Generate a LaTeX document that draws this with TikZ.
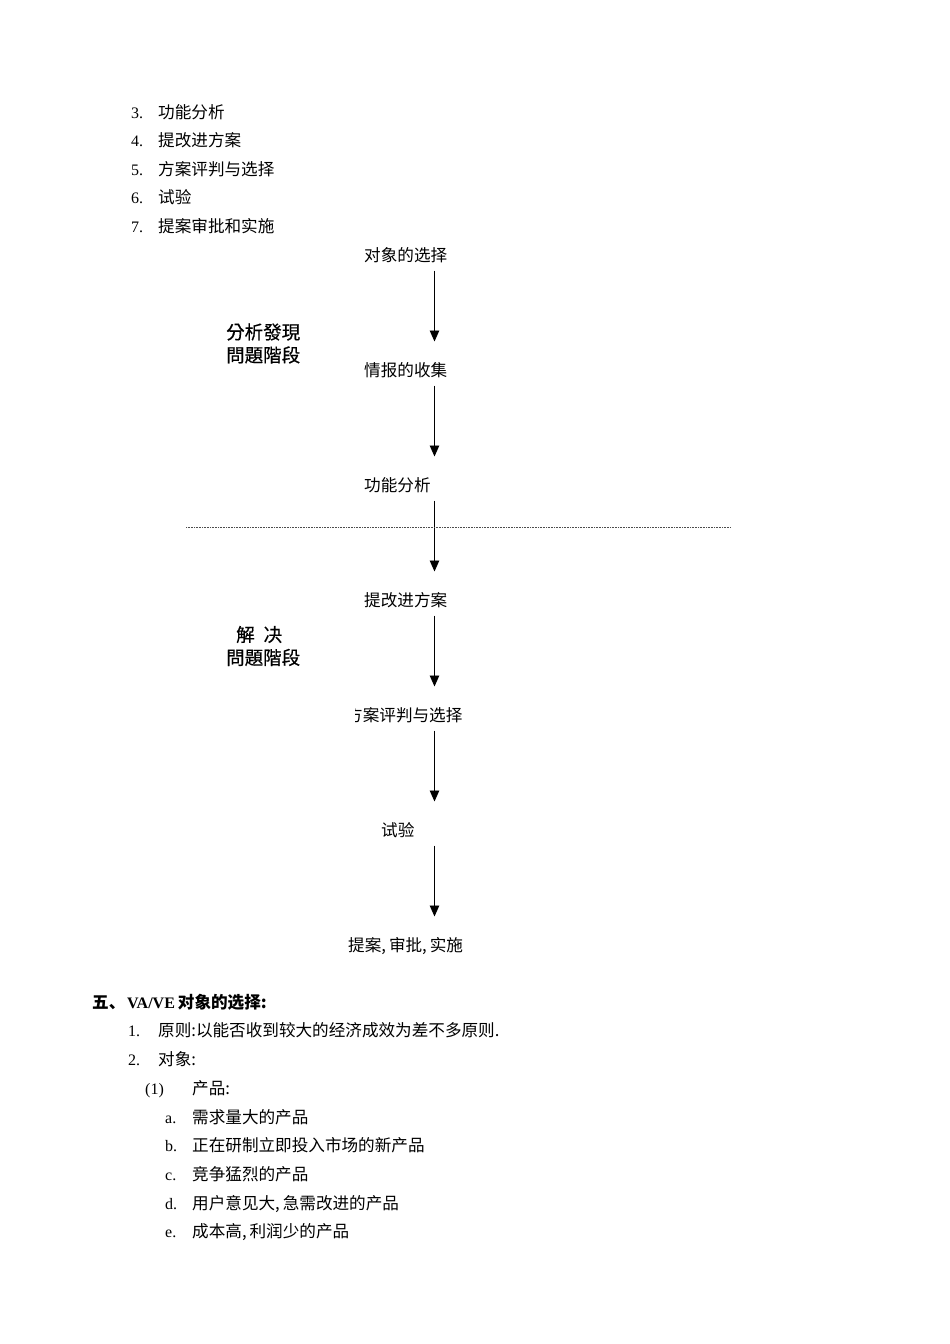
\documentclass[tikz,border=0pt]{standalone}
\usepackage{fontspec}
\setmainfont{Liberation Serif}
\newfontfamily\cjk{Noto Sans CJK SC}
\newfontfamily\cjktc[FakeBold=0.6]{Noto Sans CJK TC}
\usetikzlibrary{arrows.meta}

\tikzset{
    txt/.style={anchor=west, inner sep=0pt, font=\cjk\fontsize{16.6}{20}\selectfont,
        text height=14.6pt, text depth=2pt},
    num/.style={anchor=west, inner sep=0pt, font=\fontsize{16}{20}\selectfont,
        text height=14.6pt, text depth=2pt},
    stage/.style={anchor=west, inner sep=0pt, align=left,
        font=\cjktc\fontsize{18.5}{23}\selectfont},
    flow/.style={-{Triangle[length=11pt,width=9.5pt]}, line width=0.9pt,
        shorten <=7pt, shorten >=20pt},
}

\begin{document}
\begin{tikzpicture}[x=1pt,y=-1pt]
    \useasboundingbox (0,0) rectangle (950,1344);
    % steps listed above the chart
    \foreach \n/\t [count=\i from 0] in {3/功能分析, 4/提改进方案, 5/方案评判与选择, 6/试验, 7/提案审批和实施} {
        \node[num] (no\n) at (131,112+28.5*\i) {\n.};
        \node[txt] (step\n) at (158,112+28.5*\i) {\t};
    }
    % flow chart
    \coordinate (ax) at (434.5,0);
    \node[txt] (obj)  at (364,255) {对象的选择};
    \node[txt] (info) at (364,370) {情报的收集};
    \node[txt] (func) at (364,485) {功能分析};
    \node[txt] (impr) at (364,600) {提改进方案};
    \begin{scope}
        \clip (355,700) rectangle (480,730);
        \node[txt] (eval) at (346,715) {方案评判与选择};
    \end{scope}
    \node[txt] (test) at (381,830) {试验};
    \node[txt] (appr) at (348,945) {提案,\kern3pt 审批,\kern3pt 实施};
    \foreach \a/\b in {obj/info, info/func, func/impr, impr/eval, eval/test, test/appr}
        \draw[flow] (\a.south -| ax) -- (\b.north -| ax);
    \draw[line width=1pt, gray!60!black, dash pattern=on 1pt off 0.6pt] (186,527.5) -- (731,527.5);
    \node[stage] (find) at (226,343.5) {分析發現\\問題階段};
    \node[stage] (solve) at (226,646) {\hspace*{10pt}解\hspace{9pt}决\\問題階段};
    % section five
    \node[txt, font=\cjk\bfseries\fontsize{16.6}{20}\selectfont] (sec) at (92,1002) {五、};
    \node[txt, font=\cjk\bfseries\fontsize{16.6}{20}\selectfont] (sectitle) at (127,1002)
        {{\rmfamily\fontsize{16}{20}\selectfont VA/VE}\kern3pt 对象的选择:};
    \node[num] (no1) at (128,1030) {1.};
    \node[txt] (rule) at (158,1030) {原则:以能否收到较大的经济成效为差不多原则.};
    \node[num] (no2) at (128,1059) {2.};
    \node[txt] (target) at (158,1059) {对象:};
    \node[num] (sub1) at (145,1088) {(1)};
    \node[txt] (prod) at (192,1088) {产品:};
    \foreach \l/\t [count=\i] in {a/需求量大的产品, b/正在研制立即投入市场的新产品, c/竞争猛烈的产品,
            d/{用户意见大,\kern3pt 急需改进的产品}, e/{成本高,\kern3pt 利润少的产品}} {
        \node[num] (lt\l) at (165,1088+28.7*\i) {\l.};
        \node[txt] (item\l) at (192,1088+28.7*\i) {\t};
    }
\end{tikzpicture}
\end{document}
